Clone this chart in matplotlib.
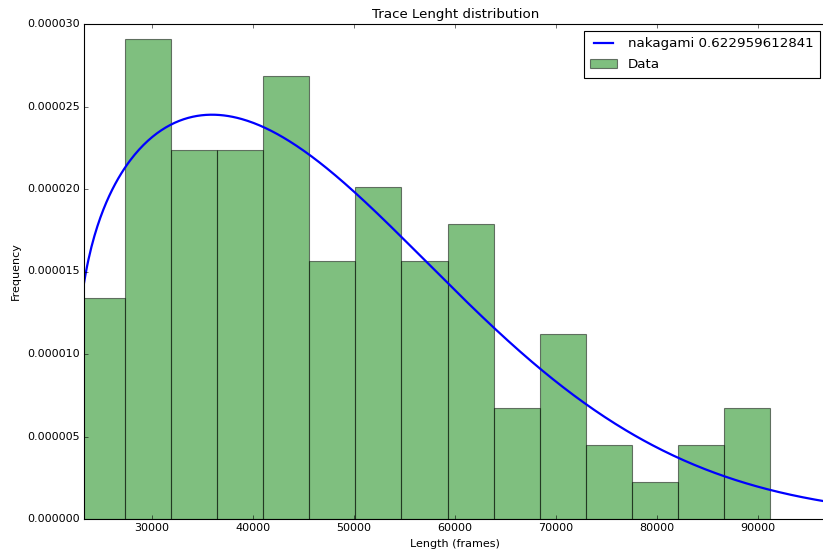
import math
import numpy as np
import matplotlib
matplotlib.use('Agg')
import matplotlib.pyplot as plt
from matplotlib.ticker import FormatStrFormatter

plt.style.use('classic')

# trace lengths, binned into 15 equal-width bins
bin_start = 22765.0
bin_width = 4561.5
counts = np.array([6, 13, 10, 10, 12, 7, 9, 7, 8, 3, 5, 2, 1, 2, 3])

# fitted nakagami parameters
nu = 0.622959612841
loc = 22344.0
scale = 30600.0

x_min, x_max = 23267.0, 96780.0


def nakagami_pdf(x, nu, loc, scale):
    z = np.clip((x - loc) / scale, 1e-12, None)
    pdf = 2 * nu ** nu / math.gamma(nu) * z ** (2 * nu - 1) * np.exp(-nu * z * z)
    return pdf / scale


edges = bin_start + bin_width * np.arange(len(counts) + 1)
centers = (edges[:-1] + edges[1:]) / 2

W, H, DPI = 823, 555, 80
fig = plt.figure(figsize=(W / DPI, H / DPI), dpi=DPI, facecolor='white')
ax = fig.add_axes([84 / W, 1 - 519 / H, (826.5 - 84) / W, (519 - 24) / H])

xs = np.linspace(x_min, x_max, 500)
ax.plot(xs, nakagami_pdf(xs, nu, loc, scale), 'b-', lw=2,
        label='nakagami ' + str(nu))
ax.hist(centers, bins=edges, weights=counts, density=True,
        color='g', alpha=0.5, label='Data')

ax.set_xlim(x_min, x_max)
ax.set_ylim(0, 0.00003)
ax.yaxis.set_major_formatter(FormatStrFormatter('%.6f'))
ax.tick_params(labelsize=10)

ax.set_title('Trace Lenght distribution', fontsize=12)
ax.set_xlabel('Length (frames)', fontsize=10)
ax.set_ylabel('Frequency', fontsize=10)
ax.legend(loc='upper right', fontsize=12, fancybox=False,
          borderpad=0.5, labelspacing=0.6)

fig.savefig('out.png', dpi=DPI, facecolor='white')
